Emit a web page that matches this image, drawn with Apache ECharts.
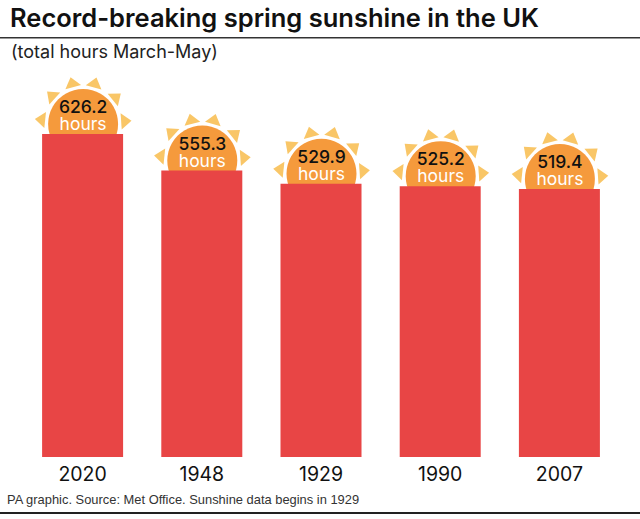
<!DOCTYPE html>
<html><head><meta charset="utf-8">
<style>html,body{margin:0;padding:0;background:#fff}#c{width:640px;height:519px}</style>
<script src="https://cdn.jsdelivr.net/npm/echarts@6/dist/echarts.min.js"></script>
</head><body><div id="c"></div>
<script>
const categories = ['2020','1948','1929','1990','2007'];
const hours = [626.2,555.3,529.9,525.2,519.4];
const rayAngles = [4,39,74,105,138,174];
const FONT = 'Inter';
const chart = echarts.init(document.getElementById('c'),null,{renderer:'svg'});
function renderSun(params, api){
  const p = api.coord([api.value(0), api.value(1)]);
  const cx = p[0]+0.5, cy = p[1]-10;
  const children = [];
  rayAngles.forEach(a=>{
    const pt=(r,d)=>{const t=(a+d)*Math.PI/180;return [cx+r*Math.cos(t),cy-r*Math.sin(t)];};
    children.push({type:'polygon',shape:{points:[pt(39,-12),pt(48.5,0),pt(39,12)]},style:{fill:'#f9c667'}});
  });
  children.push({type:'circle',shape:{cx,cy,r:35},style:{fill:'#f59a3c'}});
  children.push({type:'text',style:{
    x:cx,y:p[1]-19,
    text:'{v|'+api.value(1).toFixed(1)+'}\n{h|hours}',
    align:'center',verticalAlign:'middle',
    rich:{
      v:{fill:'#111',font:'500 17.5px '+FONT,lineHeight:17,align:'center'},
      h:{fill:'#fff',font:'400 17.5px '+FONT,lineHeight:17,align:'center'}
    }
  }});
  return {type:'group',children};
}
chart.setOption({
  animation:false,
  backgroundColor:'#fff',
  title:[
    {text:'Record-breaking spring sunshine in the UK',left:10,top:4,textStyle:{fontFamily:FONT,fontWeight:600,fontSize:25.5,color:'#111'},padding:0},
    {text:'(total hours March-May)',left:11,top:42,textStyle:{fontFamily:FONT,fontWeight:400,fontSize:18,color:'#222'},padding:0},
    {text:'PA graphic. Source: Met Office. Sunshine data begins in 1929',left:7,top:493,textStyle:{fontFamily:'Liberation Sans',fontWeight:400,fontSize:12.9,color:'#333'},padding:0}
  ],
  grid:{left:23,right:21,top:44.4,height:412.6,containLabel:false},
  xAxis:{type:'category',data:categories,axisLine:{show:false},axisTick:{show:false},axisLabel:{fontFamily:FONT,fontSize:19.5,color:'#111',margin:7}},
  yAxis:{type:'value',min:0,max:800,show:false,splitLine:{show:false}},
  series:[
    {type:'custom',z:1,renderItem:renderSun,data:hours.map((v,i)=>[i,v]),encode:{x:0,y:1},clip:false},
    {type:'bar',z:2,data:hours,barWidth:81,itemStyle:{color:'#e84545'}}
  ],
  graphic:[
    {type:'rect',shape:{x:0,y:37,width:640,height:1.5},style:{fill:'#333'}},
    {type:'rect',shape:{x:0,y:512,width:640,height:2},style:{fill:'#222'}}
  ]
});
</script></body></html>
